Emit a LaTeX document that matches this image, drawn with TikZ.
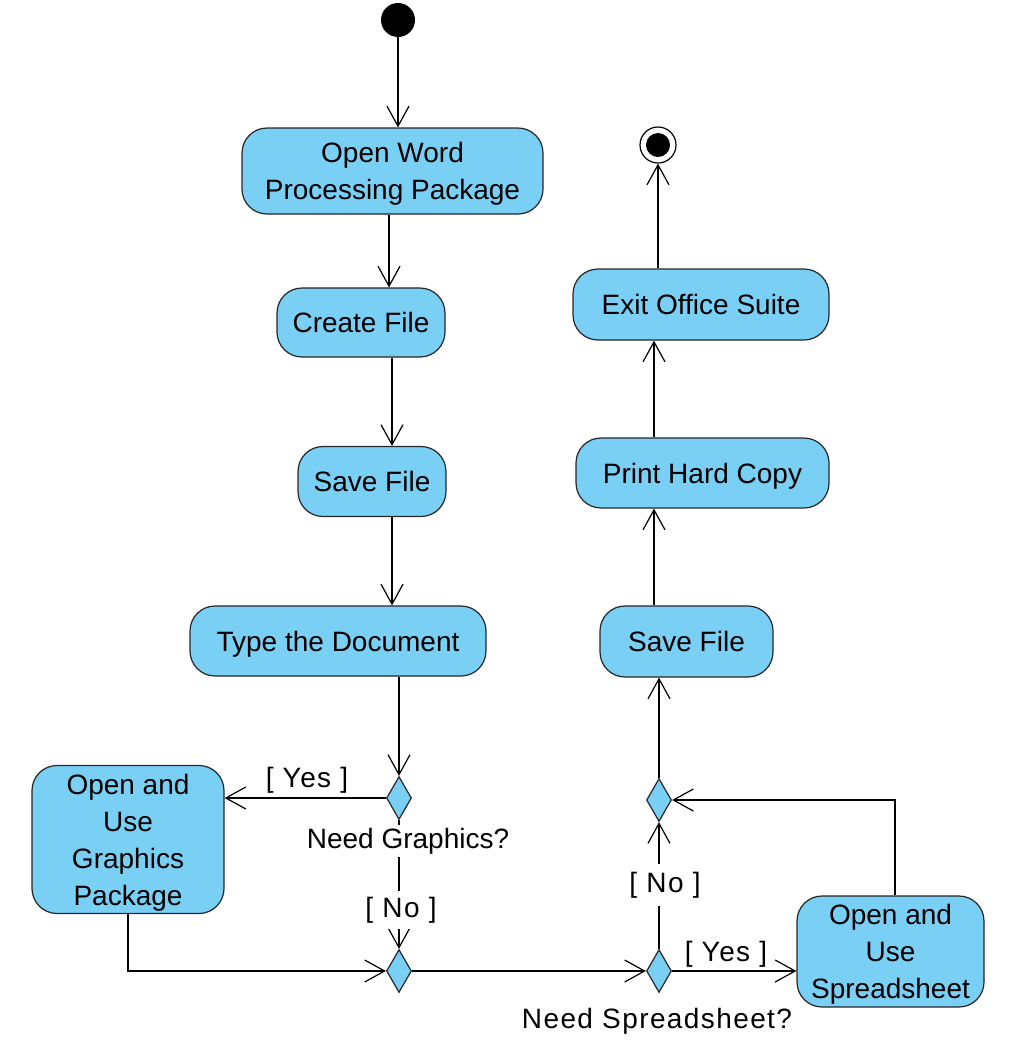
\documentclass[tikz,border=0pt]{standalone}
\usepackage{fontspec}
\setmainfont{Liberation Sans}
\newfontfamily\widefont[LetterSpace=5]{Liberation Sans}
\usetikzlibrary{shapes.geometric,arrows.meta}
\definecolor{actfill}{HTML}{7ACFF5}
\tikzset{
  act/.style={draw=black!85, fill=actfill, rounded corners=25pt, line width=1.2pt,
    inner sep=0pt, align=center, text depth=0pt, font=\fontsize{28}{37}\selectfont},
  dec/.style={draw=black!85, fill=actfill, diamond, line width=1.2pt, inner sep=0pt,
    minimum width=25pt, minimum height=43pt, aspect=0.58},
  arr/.style={line width=1.2pt, -{Straight Barb[length=20pt,width=22pt,line width=1.2pt]}},
  lbl/.style={fill=white, inner sep=3pt, font=\fontsize{28}{34}\selectfont},
  glbl/.style={lbl, font=\fontsize{28}{34}\widefont},
}
\begin{document}
\begin{tikzpicture}[x=1pt,y=-1pt]
\useasboundingbox (0,0) rectangle (1013,1050);
% start / end
\node[circle, fill=black, minimum size=34pt, inner sep=0pt] (start) at (398,20) {};
\node[circle, draw=black, line width=1.2pt, fill=white, minimum size=36pt, inner sep=0pt] (end) at (658,145) {};
\fill[black] (end.center) circle (12pt);
% activities
\node[act, minimum width=301pt, minimum height=86pt] (owp) at (392.5,171) {Open Word\\Processing Package};
\node[act, minimum width=168pt, minimum height=69pt] (cf) at (361,322.5) {Create File};
\node[act, minimum width=148pt, minimum height=70pt] (sf1) at (372,481.5) {Save File};
\node[act, minimum width=296pt, minimum height=70pt] (td) at (338,641) {Type the Document};
\node[act, minimum width=192pt, minimum height=148pt] (gp) at (128,839.5) {Open and\\Use\\Graphics\\Package};
\node[act, minimum width=187pt, minimum height=111pt] (ss) at (890.5,951.5) {Open and\\Use\\Spreadsheet};
\node[act, minimum width=173pt, minimum height=71pt] (sf2) at (686.5,641.5) {Save File};
\node[act, minimum width=253pt, minimum height=70pt] (ph) at (702.5,473) {Print Hard Copy};
\node[act, minimum width=256pt, minimum height=71pt] (ex) at (701,304.5) {Exit Office Suite};
% decisions
\node[dec] (d1) at (399,798) {};
\node[dec] (d2) at (399,971) {};
\node[dec] (d3) at (659,971) {};
\node[dec] (d4) at (659,800) {};
% connectors
\draw[arr] (start) -- (start |- owp.north);
\draw[arr] ([xshift=-3.5pt]owp.south) -- ([xshift=-3.5pt]owp.south |- cf.north);
\draw[arr] ([xshift=31pt]cf.south) -- ([xshift=31pt]cf.south |- sf1.north);
\draw[arr] ([xshift=20pt]sf1.south) -- ([xshift=20pt]sf1.south |- td.north);
\draw[arr] (d1 |- td.south) -- (d1.north);
\draw[arr] (d1.west) -- (d1.west -| gp.east);
\draw[arr] (d1.south) -- (d2.north);
\draw[arr] (gp.south) |- (d2.west);
\draw[arr] (d2.east) -- (d3.west);
\draw[arr] (d3.east) -- (d3.east -| ss.west);
\draw[arr] (d3.north) -- (d4.south);
\draw[arr] ([xshift=4.5pt]ss.north) |- (d4.east);
\draw[arr] (d4.north) -- (d4.north |- sf2.south);
\draw[arr] ([xshift=-32.5pt]sf2.north) -- ([xshift=-32.5pt]sf2.north |- ph.south);
\draw[arr] ([xshift=-48.5pt]ph.north) -- ([xshift=-48.5pt]ph.north |- ex.south);
\draw[arr] (end |- ex.north) -- (end.south);
% labels
\node[glbl, fill=none] (lyes1) at (307,780) {[ Yes ]};
\node[lbl] (lng) at (408,841) {Need Graphics?};
\node[glbl, inner ysep=6pt] (lno1) at (401,910) {[ No ]};
\node[glbl, inner ysep=8pt] (lno2) at (665,885) {[ No ]};
\node[glbl, fill=none] (lyes2) at (726,954) {[ Yes ]};
\node[glbl, fill=none] (lns) at (657,1021) {Need Spreadsheet?};
\end{tikzpicture}
\end{document}
